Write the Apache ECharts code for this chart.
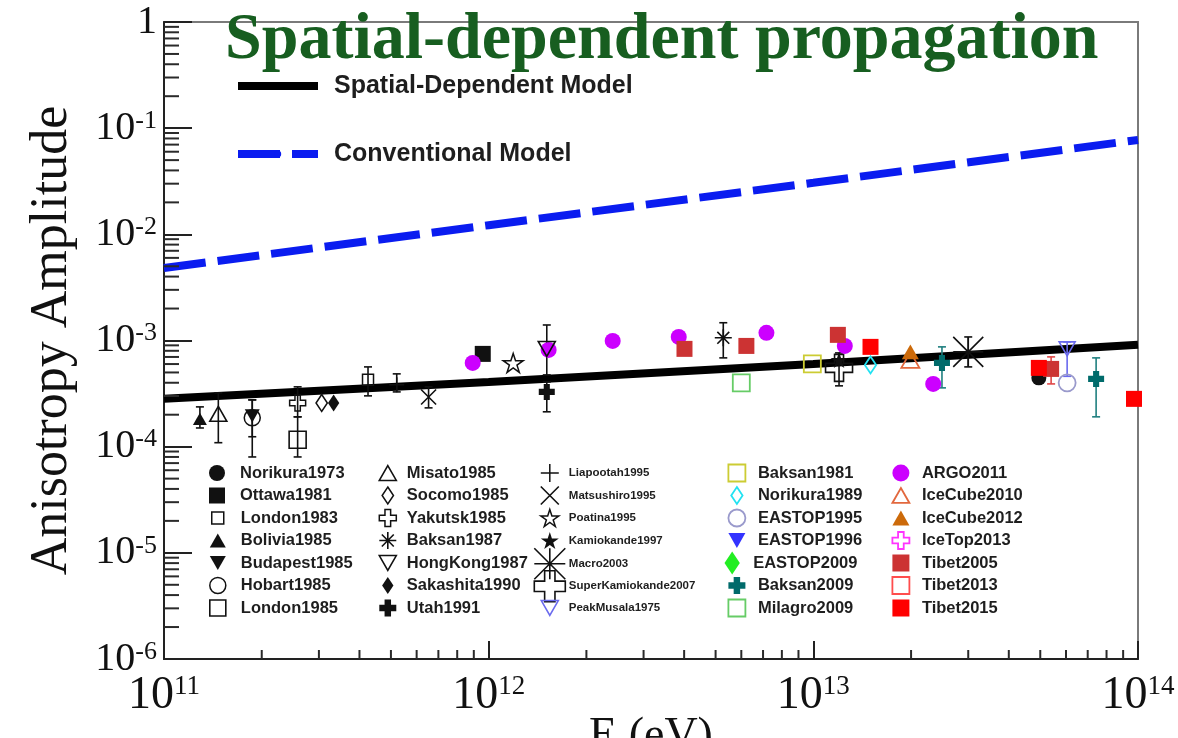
<!DOCTYPE html>
<html>
<head>
<meta charset="utf-8">
<script src="https://cdn.jsdelivr.net/npm/echarts@6/dist/echarts.min.js"></script>
<style>
  html, body { margin: 0; padding: 0; background: #fff; }
  #chart { width: 1178px; height: 738px; }
</style>
</head>
<body>
<div id="chart"></div>
<script>
// ---- Measurements: [energy (eV), amplitude, lower bound, upper bound] ----
const norikura1973 = [[4.95e13, 4.45e-4]];
const ottawa1981 = [[9.59e11, 7.48e-4]];
const london1983 = [[4.25e11, 4.26e-4, 3.01e-4, 5.64e-4]];
const bolivia1985 = [[1.29e11, 1.83e-4, 1.50e-4, 2.37e-4]];
const budapest1985 = [[1.87e11, 1.95e-4, 1.24e-4, 2.76e-4]];
const hobart1985 = [[1.87e11, 1.87e-4, 8.0e-5, 2.76e-4]];
const london1985 = [[2.58e11, 1.16e-4, 8.0e-5, 1.91e-4]];
const misato1985 = [[1.47e11, 2.04e-4, 1.09e-4, 3.21e-4]];
const socomo1985 = [[3.06e11, 2.58e-4]];
const yakutsk1985 = [[2.58e11, 2.58e-4, 1.91e-4, 3.66e-4]];
const baksan1987 = [[5.28e12, 1.06e-3, 6.86e-4, 1.47e-3]];
const hongKong1987 = [[1.51e12, 8.34e-4, 4.74e-4, 1.40e-3]];
const sakashita1990 = [[3.33e11, 2.58e-4]];
const utah1991 = [[1.51e12, 3.28e-4, 2.13e-4, 4.07e-4]];
const liapootah1995 = [[5.21e11, 3.82e-4, 3.28e-4, 4.85e-4]];
const matsushiro1995 = [[6.53e11, 2.94e-4, 2.32e-4, 3.66e-4]];
const poatina1995 = [[1.19e12, 6.15e-4]];
const kamiokande1997 = [[1.2e13, 6.56e-4]];
const macro2003 = [[3.0e13, 7.81e-4, 5.64e-4, 1.08e-3]];
const superKamiokande2007 = [[1.2e13, 5.52e-4, 3.74e-4, 7.64e-4]];
const peakMusala1975 = [[6.05e13, 8.34e-4, 4.6e-4, 9.7e-4]];
const baksan1981 = [[9.93e12, 6.03e-4]];
const norikura1989 = [[1.5e13, 5.89e-4]];
const eastop1995 = [[6.05e13, 3.99e-4]];
const eastop1996 = [];
const eastop2009 = [];
const baksan2009 = [[2.49e13, 6.15e-4, 3.58e-4, 8.71e-4], [7.43e13, 4.35e-4, 1.91e-4, 6.86e-4]];
const milagro2009 = [[6.0e12, 3.99e-4]];
const argo2011 = [[8.93e11, 6.15e-4], [1.53e12, 8.16e-4], [2.41e12, 9.91e-4], [3.85e12, 1.08e-3],
                  [7.17e12, 1.18e-3], [1.25e13, 8.89e-4], [2.34e13, 3.90e-4]];
const iceCube2010 = [[1.99e13, 6.56e-4]];
const iceCube2012 = [[1.99e13, 7.81e-4]];
const iceTop2013 = [];
const tibet2005 = [[4.01e12, 8.34e-4], [6.22e12, 8.89e-4], [1.19e13, 1.13e-3], [5.4e13, 5.4e-4, 3.9e-4, 7.01e-4]];
const tibet2013 = [];
const tibet2015 = [[1.5e13, 8.71e-4], [4.95e13, 5.52e-4], [9.72e13, 2.82e-4]];

// ---- Model curves ----
const modelEnergy = [1e11, 1e12, 1e13, 1e14];
const spatialModelAmp = [2.82e-4, 4.07e-4, 6.0e-4, 9.1e-4];
const conventionalModelAmp = [4.82e-3, 1.22e-2, 3.06e-2, 7.74e-2];

// ---- Axis decades ----
const xDecades = [11, 12, 13, 14];
const yDecades = [-6, -5, -4, -3, -2, -1, 0];
const minorSteps = [2, 3, 4, 5, 6, 7, 8, 9];

// ---- Marker shapes ----
const P = {
  triUp: 'path://M1,0L2,1.75L0,1.75Z',
  triDown: 'path://M0,0L2,0L1,1.75Z',
  diamond: 'path://M1,0L2,1.5L1,3L0,1.5Z',
  plus: 'path://M0.667,0L1.333,0L1.333,0.667L2,0.667L2,1.333L1.333,1.333L1.333,2L0.667,2L0.667,1.333L0,1.333L0,0.667L0.667,0.667Z',
  plusBold: 'path://M0.62,0L1.38,0L1.38,0.62L2,0.62L2,1.38L1.38,1.38L1.38,2L0.62,2L0.62,1.38L0,1.38L0,0.62L0.62,0.62Z',
  cross: 'path://M1,0L1,2M0,1L2,1',
  xmark: 'path://M0,0L2,2M0,2L2,0',
  aster: 'path://M1,0L1,2M0,1L2,1M0.3,0.3L1.7,1.7M0.3,1.7L1.7,0.3',
  asterBig: 'path://M0,0L2,2M0,2L2,0M0,1L2,1M1,0L1,2',
  star: 'path://M0,-1L0.2234,-0.3074L0.9511,-0.309L0.3614,0.1174L0.5878,0.809L0,0.38L-0.5878,0.809L-0.3614,0.1174L-0.9511,-0.309L-0.2234,-0.3074Z'
};
const NONE = 'rgba(0,0,0,0)';
const INK = '#111';

// name, data, symbol, size, fill, stroke, border width, error-bar colour
const experiments = [
  ['Norikura1973', norikura1973, 'circle', 15, INK, null, 0, INK],
  ['Ottawa1981', ottawa1981, 'rect', 16, INK, null, 0, INK],
  ['London1983', london1983, 'rect', 11, NONE, INK, 1.5, INK],
  ['Bolivia1985', bolivia1985, P.triUp, 14, INK, null, 0, INK],
  ['Budapest1985', budapest1985, P.triDown, 15, INK, null, 0, INK],
  ['Hobart1985', hobart1985, 'circle', 16, NONE, INK, 1.5, INK],
  ['London1985', london1985, 'rect', 17, NONE, INK, 1.6, INK],
  ['Misato1985', misato1985, P.triUp, 17, NONE, INK, 1.6, INK],
  ['Socomo1985', socomo1985, P.diamond, 17, NONE, INK, 1.5, INK],
  ['Yakutsk1985', yakutsk1985, P.plus, 16, NONE, INK, 1.5, INK],
  ['Baksan1987', baksan1987, P.aster, 17, NONE, INK, 1.6, INK],
  ['HongKong1987', hongKong1987, P.triDown, 17, NONE, INK, 1.6, INK],
  ['Sakashita1990', sakashita1990, P.diamond, 17, INK, null, 0, INK],
  ['Utah1991', utah1991, P.plusBold, 16, INK, null, 0, INK],
  ['Liapootah1995', liapootah1995, P.cross, 15, NONE, INK, 1.5, INK],
  ['Matsushiro1995', matsushiro1995, P.xmark, 15, NONE, INK, 1.6, INK],
  ['Poatina1995', poatina1995, P.star, 20, NONE, INK, 1.5, INK],
  ['Kamiokande1997', kamiokande1997, P.star, 17, INK, null, 0, INK],
  ['Macro2003', macro2003, P.asterBig, 30, NONE, INK, 1.6, INK],
  ['SuperKamiokande2007', superKamiokande2007, P.plus, 27, NONE, INK, 1.6, INK],
  ['PeakMusala1975', peakMusala1975, P.triDown, 16, NONE, '#6a6aee', 1.6, '#6a6aee'],
  ['Baksan1981', baksan1981, 'rect', 17, NONE, '#cccc33', 1.8, '#cccc33'],
  ['Norikura1989', norikura1989, P.diamond, 17, NONE, '#22e2f2', 1.8, '#22e2f2'],
  ['EASTOP1995', eastop1995, 'circle', 17, NONE, '#9a9acc', 1.8, '#9a9acc'],
  ['EASTOP1996', eastop1996, P.triDown, 16, '#3333ff', null, 0, '#3333ff'],
  ['EASTOP2009', eastop2009, P.diamond, 22, '#22ee22', null, 0, '#22ee22'],
  ['Baksan2009', baksan2009, P.plusBold, 16, '#006b6b', null, 0, '#1f7f7f'],
  ['Milagro2009', milagro2009, 'rect', 17, NONE, '#66cc66', 1.8, '#66cc66'],
  ['ARGO2011', argo2011, 'circle', 16, '#cc00ff', null, 0, '#cc00ff'],
  ['IceCube2010', iceCube2010, P.triUp, 18, NONE, '#e2683e', 1.8, '#e2683e'],
  ['IceCube2012', iceCube2012, P.triUp, 17, '#cc6a0a', null, 0, '#cc6a0a'],
  ['IceTop2013', iceTop2013, P.plus, 17, NONE, '#ff33ff', 1.8, '#ff33ff'],
  ['Tibet2005', tibet2005, 'rect', 16, '#cc3333', null, 0, '#e04848'],
  ['Tibet2013', tibet2013, 'rect', 17, NONE, '#ff4d4d', 1.8, '#ff4d4d'],
  ['Tibet2015', tibet2015, 'rect', 16, '#ff0000', null, 0, '#ff0000']
];

// legend blocks: names, icon centre x, text start x, first row, icon size, font size
const legendRowY = [473, 495.5, 518, 540.5, 563, 585.5, 608];
const legendBlocks = [
  [['Norikura1973', 'Ottawa1981'], 217, 240, 0, 16, 16.5],
  [['London1983'], 217, 240, 2, 12, 16.5],
  [['Bolivia1985', 'Budapest1985', 'Hobart1985', 'London1985'], 217, 240, 3, 16, 16.5],
  [['Misato1985', 'Socomo1985', 'Yakutsk1985', 'Baksan1987', 'HongKong1987', 'Sakashita1990', 'Utah1991'], 387, 406, 0, 17, 16.5],
  [['Liapootah1995', 'Matsushiro1995', 'Poatina1995', 'Kamiokande1997'], 549, 568, 0, 18, 11.5],
  [['Macro2003'], 549, 568, 4, 31, 11.5],
  [['SuperKamiokande2007'], 549, 568, 5, 31, 11.5],
  [['PeakMusala1975'], 549, 568, 6, 17, 11.5],
  [['Baksan1981', 'Norikura1989', 'EASTOP1995', 'EASTOP1996'], 736, 757, 0, 17, 16.5],
  [['EASTOP2009'], 736, 757, 4, 23, 16.5],
  [['Baksan2009', 'Milagro2009'], 736, 757, 5, 17, 16.5],
  [['ARGO2011', 'IceCube2010', 'IceCube2012', 'IceTop2013', 'Tibet2005', 'Tibet2013', 'Tibet2015'], 900, 921, 0, 17, 16.5]
];

const SERIF = 'Liberation Serif';
const SANS = 'Liberation Sans';
const ROW = 22.5;

function legendFor(block) {
  const [names, cx, textX, row, size, fontSize] = block;
  const left = cx - size / 2;
  return {
    orient: 'vertical',
    left: left,
    top: legendRowY[row] - Math.max(size, ROW) / 2,
    padding: 0,
    itemGap: 0,
    itemWidth: size,
    itemHeight: size,
    selectedMode: false,
    symbolKeepAspect: true,
    data: names,
    itemStyle: { borderWidth: 'inherit' },
    textStyle: {
      fontFamily: SANS, fontWeight: 'bold', fontSize: fontSize, color: '#1e1e1e',
      lineHeight: ROW, padding: [0, 0, 0, textX - (left + size + 5)]
    }
  };
}

function errorBarItem(color) {
  return function (params, api) {
    const e = api.value(0);
    const lo = api.coord([e, api.value(2)]);
    const hi = api.coord([e, api.value(3)]);
    const st = { stroke: color, lineWidth: 1.6 };
    return {
      type: 'group',
      children: [
        { type: 'line', shape: { x1: lo[0], y1: lo[1], x2: hi[0], y2: hi[1] }, style: st },
        { type: 'line', shape: { x1: lo[0] - 4, y1: lo[1], x2: lo[0] + 4, y2: lo[1] }, style: st },
        { type: 'line', shape: { x1: hi[0] - 4, y1: hi[1], x2: hi[0] + 4, y2: hi[1] }, style: st }
      ]
    };
  };
}

const series = [];

// model curves
series.push({
  name: 'Spatial-Dependent Model', type: 'line', symbol: 'none', z: 2, silent: true,
  data: modelEnergy.map((e, i) => [e, spatialModelAmp[i]]),
  lineStyle: { color: '#000', width: 8 }, itemStyle: { color: '#000' }
});
series.push({
  name: 'Conventional Model', type: 'line', symbol: 'none', z: 2, silent: true,
  data: modelEnergy.map((e, i) => [e, conventionalModelAmp[i]]),
  lineStyle: { color: '#0a1cf0', width: 8, type: [42, 12] }, itemStyle: { color: '#0a1cf0' }
});

// error bars
experiments.forEach(([name, data, , , , , , barColor]) => {
  const withErr = data.filter(d => d.length > 2);
  if (withErr.length) {
    series.push({
      name: name + ' error', type: 'custom', z: 3, silent: true,
      renderItem: errorBarItem(barColor), data: withErr
    });
  }
});

// markers
experiments.forEach(([name, data, symbol, size, fill, stroke, bw]) => {
  series.push({
    name: name, type: 'scatter', z: name === 'HongKong1987' ? 5 : 4, silent: true,
    symbol: symbol, symbolSize: size, symbolKeepAspect: true,
    data: data.map(d => [d[0], d[1]]),
    itemStyle: { color: fill, borderColor: stroke || fill, borderWidth: bw, opacity: 1 }
  });
});

// minor ticks on the log axes
const yMinor = [];
yDecades.slice(0, -1).forEach(d => minorSteps.forEach(k => yMinor.push([1e11, k * Math.pow(10, d)])));
const xMinor = [];
xDecades.slice(0, -1).forEach(d => minorSteps.forEach(k => xMinor.push([k * Math.pow(10, d), 1e-6])));
series.push({
  type: 'custom', name: 'y minor ticks', z: 6, silent: true, data: yMinor,
  renderItem: (params, api) => {
    const p = api.coord([api.value(0), api.value(1)]);
    return { type: 'line', shape: { x1: p[0], y1: p[1], x2: p[0] + 15, y2: p[1] }, style: { stroke: '#2a2a2a', lineWidth: 2 } };
  }
});
series.push({
  type: 'custom', name: 'x minor ticks', z: 6, silent: true, data: xMinor,
  renderItem: (params, api) => {
    const p = api.coord([api.value(0), api.value(1)]);
    return { type: 'line', shape: { x1: p[0], y1: p[1], x2: p[0], y2: p[1] - 9 }, style: { stroke: '#2a2a2a', lineWidth: 2 } };
  }
});

const expLabel = (v) => {
  const e = Math.round(Math.log10(v));
  return e === 0 ? '{b|1}' : '{b|10}{s|' + e + '}';
};

const legends = legendBlocks.map(legendFor);
legends.push({
  orient: 'vertical', left: 234, top: 71, padding: 0, itemGap: 38,
  itemWidth: 80, itemHeight: 8, selectedMode: false,
  data: ['Spatial-Dependent Model', 'Conventional Model'],
  lineStyle: { width: 'inherit' },
  textStyle: { fontFamily: SANS, fontWeight: 'bold', fontSize: 25, color: '#1e1e1e', lineHeight: 30, padding: [0, 0, 0, 11] }
});

const chart = echarts.init(document.getElementById('chart'), null, { renderer: 'canvas' });
chart.setOption({
  animation: false,
  backgroundColor: '#fff',
  title: {
    text: 'Spatial-dependent propagation', left: 225, top: 8, padding: 0,
    textStyle: { fontFamily: SERIF, fontWeight: 'bold', fontSize: 66, color: '#175e20' }
  },
  grid: {
    left: 164, right: 40, top: 22, bottom: 79,
    show: true, borderColor: '#7a7a7a', borderWidth: 2,
    containLabel: false, outerBoundsMode: 'none'
  },
  legend: legends,
  xAxis: {
    type: 'log', logBase: 10, min: 1e11, max: 1e14,
    axisLine: { lineStyle: { color: '#222', width: 2 } },
    axisTick: { inside: true, length: 18, lineStyle: { color: '#222', width: 2 } },
    splitLine: { show: false },
    axisLabel: {
      margin: 14, formatter: expLabel, color: INK,
      rich: {
        b: { fontFamily: SERIF, fontSize: 46, lineHeight: 46, color: INK, verticalAlign: 'middle' },
        s: { fontFamily: SERIF, fontSize: 27, lineHeight: 27, color: INK, verticalAlign: 'top' }
      }
    },
    name: 'E (eV)', nameLocation: 'middle', nameGap: 55, nameMoveOverlap: false,
    nameTextStyle: { fontFamily: SERIF, fontSize: 46, color: INK }
  },
  yAxis: {
    type: 'log', logBase: 10, min: 1e-6, max: 1,
    axisLine: { lineStyle: { color: '#222', width: 2 } },
    axisTick: { inside: true, length: 28, lineStyle: { color: '#222', width: 2 } },
    splitLine: { show: false },
    axisLabel: {
      margin: 7, formatter: expLabel, color: INK,
      rich: {
        b: { fontFamily: SERIF, fontSize: 40, lineHeight: 40, color: INK, verticalAlign: 'middle' },
        s: { fontFamily: SERIF, fontSize: 26, lineHeight: 26, color: INK, verticalAlign: 'top' }
      }
    },
    name: 'Anisotropy Amplitude', nameLocation: 'middle', nameGap: 86, nameMoveOverlap: false,
    nameTextStyle: { fontFamily: SERIF, fontSize: 52, color: INK }
  },
  series: series
});
</script>
</body>
</html>
